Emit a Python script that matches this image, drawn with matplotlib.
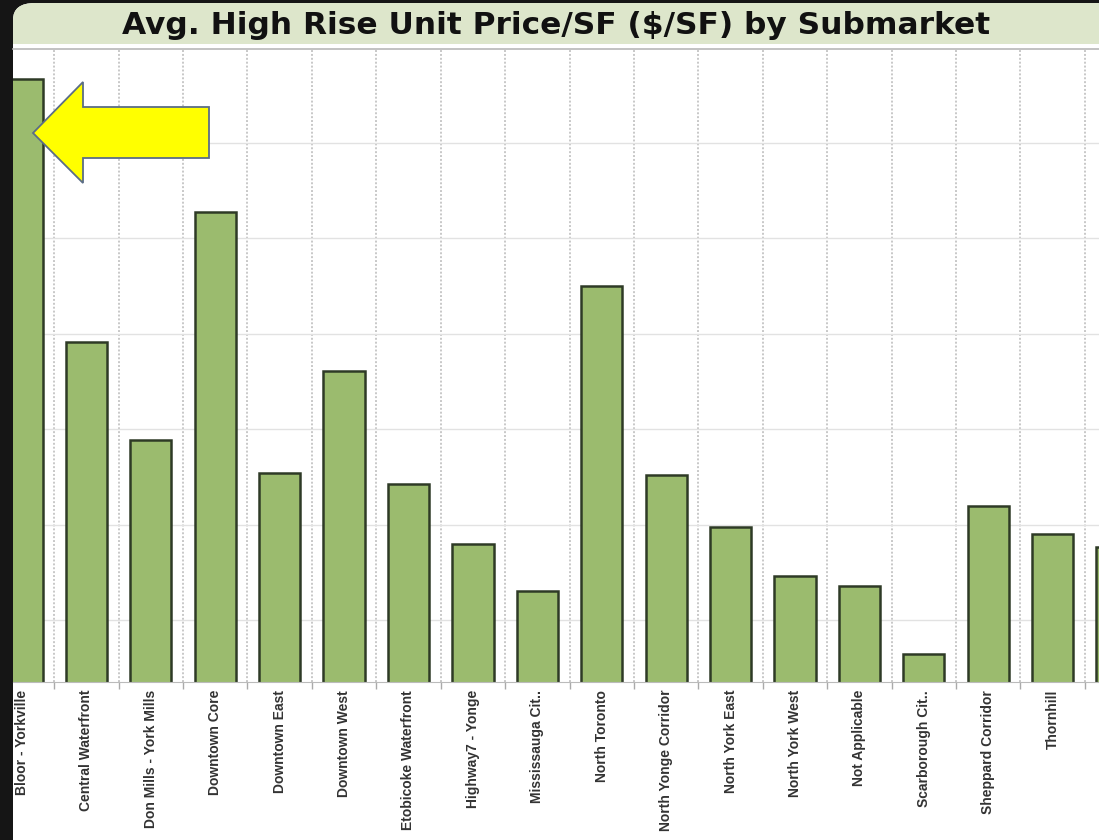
import matplotlib.pyplot as plt
from matplotlib import font_manager
from matplotlib.patches import FancyBboxPatch, Polygon, Rectangle

# Submarkets and average price per square foot
submarkets = ['Bloor - Yorkville', 'Central Waterfront', 'Don Mills - York Mills',
              'Downtown Core', 'Downtown East', 'Downtown West', 'Etobicoke Waterfront',
              'Highway7 - Yonge', 'Mississauga Cit..', 'North Toronto',
              'North Yonge Corridor', 'North York East', 'North York West',
              'Not Applicable', 'Scarborough Cit..', 'Sheppard Corridor', 'Thornhill',
              'Vaughan']
price_sf = [967, 691, 589, 827, 554, 661, 543, 480, 431, 750,
            552, 498, 446, 436, 365, 520, 490, 477]
grid_values = [400, 500, 600, 700, 800, 900, 1000]

# condensed font for the rotated labels if there is one
label_font, label_size = 'Liberation Sans', 10
try:
    font_manager.findfont(font_manager.FontProperties(family='Liberation Sans Narrow'),
                          fallback_to_default=False)
    label_font, label_size = 'Liberation Sans Narrow', 11.5
except ValueError:
    pass

W, H = 1099, 840
fig = plt.figure(figsize=(W / 100, H / 100), dpi=100, facecolor='#151515')

# white rounded panel + green title band
panel = FancyBboxPatch((13 / W, -0.1), 1.2, 1.1 - 3 / H,
                       boxstyle='round,pad=0,rounding_size=0.02',
                       transform=fig.transFigure, facecolor='white',
                       edgecolor='none', zorder=-3)
fig.patches.append(panel)
band = FancyBboxPatch((13 / W, 1 - 44 / H), 1.2, 41 / H,
                      boxstyle='round,pad=0,rounding_size=0.02',
                      transform=fig.transFigure, facecolor='#dde6cb',
                      edgecolor='none', zorder=-2)
fig.patches.append(band)
fig.patches.append(Rectangle((13 / W, 1 - 44 / H), 1.2, 15 / H,
                             transform=fig.transFigure, facecolor='#dde6cb',
                             edgecolor='none', zorder=-2))
fig.add_artist(plt.Line2D([13 / W, 1], [1 - 49 / H, 1 - 49 / H],
                          transform=fig.transFigure, color='#b8b8b8', lw=1.2, zorder=-1))
fig.text(556 / W, 1 - 25 / H, 'Avg. High Rise Unit Price/SF ($/SF) by Submarket',
         ha='center', va='center', fontsize=22.5, fontweight='bold',
         family='DejaVu Sans', color='#111111')

ax = fig.add_axes([13 / W, 1 - 681.5 / H, 1 - 13 / W, (681.5 - 49.5) / H])
ax.set_facecolor('none')
ax.set_zorder(1)

x = list(range(len(submarkets)))
ax.bar(x, price_sf, width=0.64, bottom=0, color='#9bbb6e',
       edgecolor='#2e3a26', linewidth=1.8, zorder=3)

ax.set_yticks(grid_values)
ax.yaxis.grid(True, color='#e2e2e2', lw=1.0)
ax.tick_params(axis='y', left=False, labelleft=False)

ax.set_xticks(x)
ax.set_xticklabels(submarkets, rotation=90, fontsize=label_size, fontweight='bold',
                   family=label_font, color='#333333')
ax.tick_params(axis='x', which='major', length=0, pad=6)
bounds = [i + 0.5 for i in x]
ax.set_xticks(bounds, minor=True)
ax.tick_params(axis='x', which='minor', length=5, color='#aaaaaa', width=1)
for b in bounds:
    ax.axvline(b, color='#c8c8c8', lw=1.4, ls=(0, (1, 1)), zorder=1)

ax.set_xlim(-0.14, 16.72)
ax.set_ylim(336, 997.5)

for s in ['top', 'right', 'left']:
    ax.spines[s].set_visible(False)
ax.spines['bottom'].set_color('#bbbbbb')
ax.spines['bottom'].set_zorder(4)

# yellow call-out arrow
arrow_px = [(33, 133), (83, 82), (83, 107), (209, 107), (209, 158), (83, 158), (83, 183)]
arrow = Polygon([(px / W, 1 - py / H) for px, py in arrow_px], closed=True,
                transform=fig.transFigure, facecolor='#ffff00',
                edgecolor='#5b6d86', linewidth=1.3, zorder=10)
fig.patches.append(arrow)

fig.savefig('out.png', dpi=100, facecolor=fig.get_facecolor())
